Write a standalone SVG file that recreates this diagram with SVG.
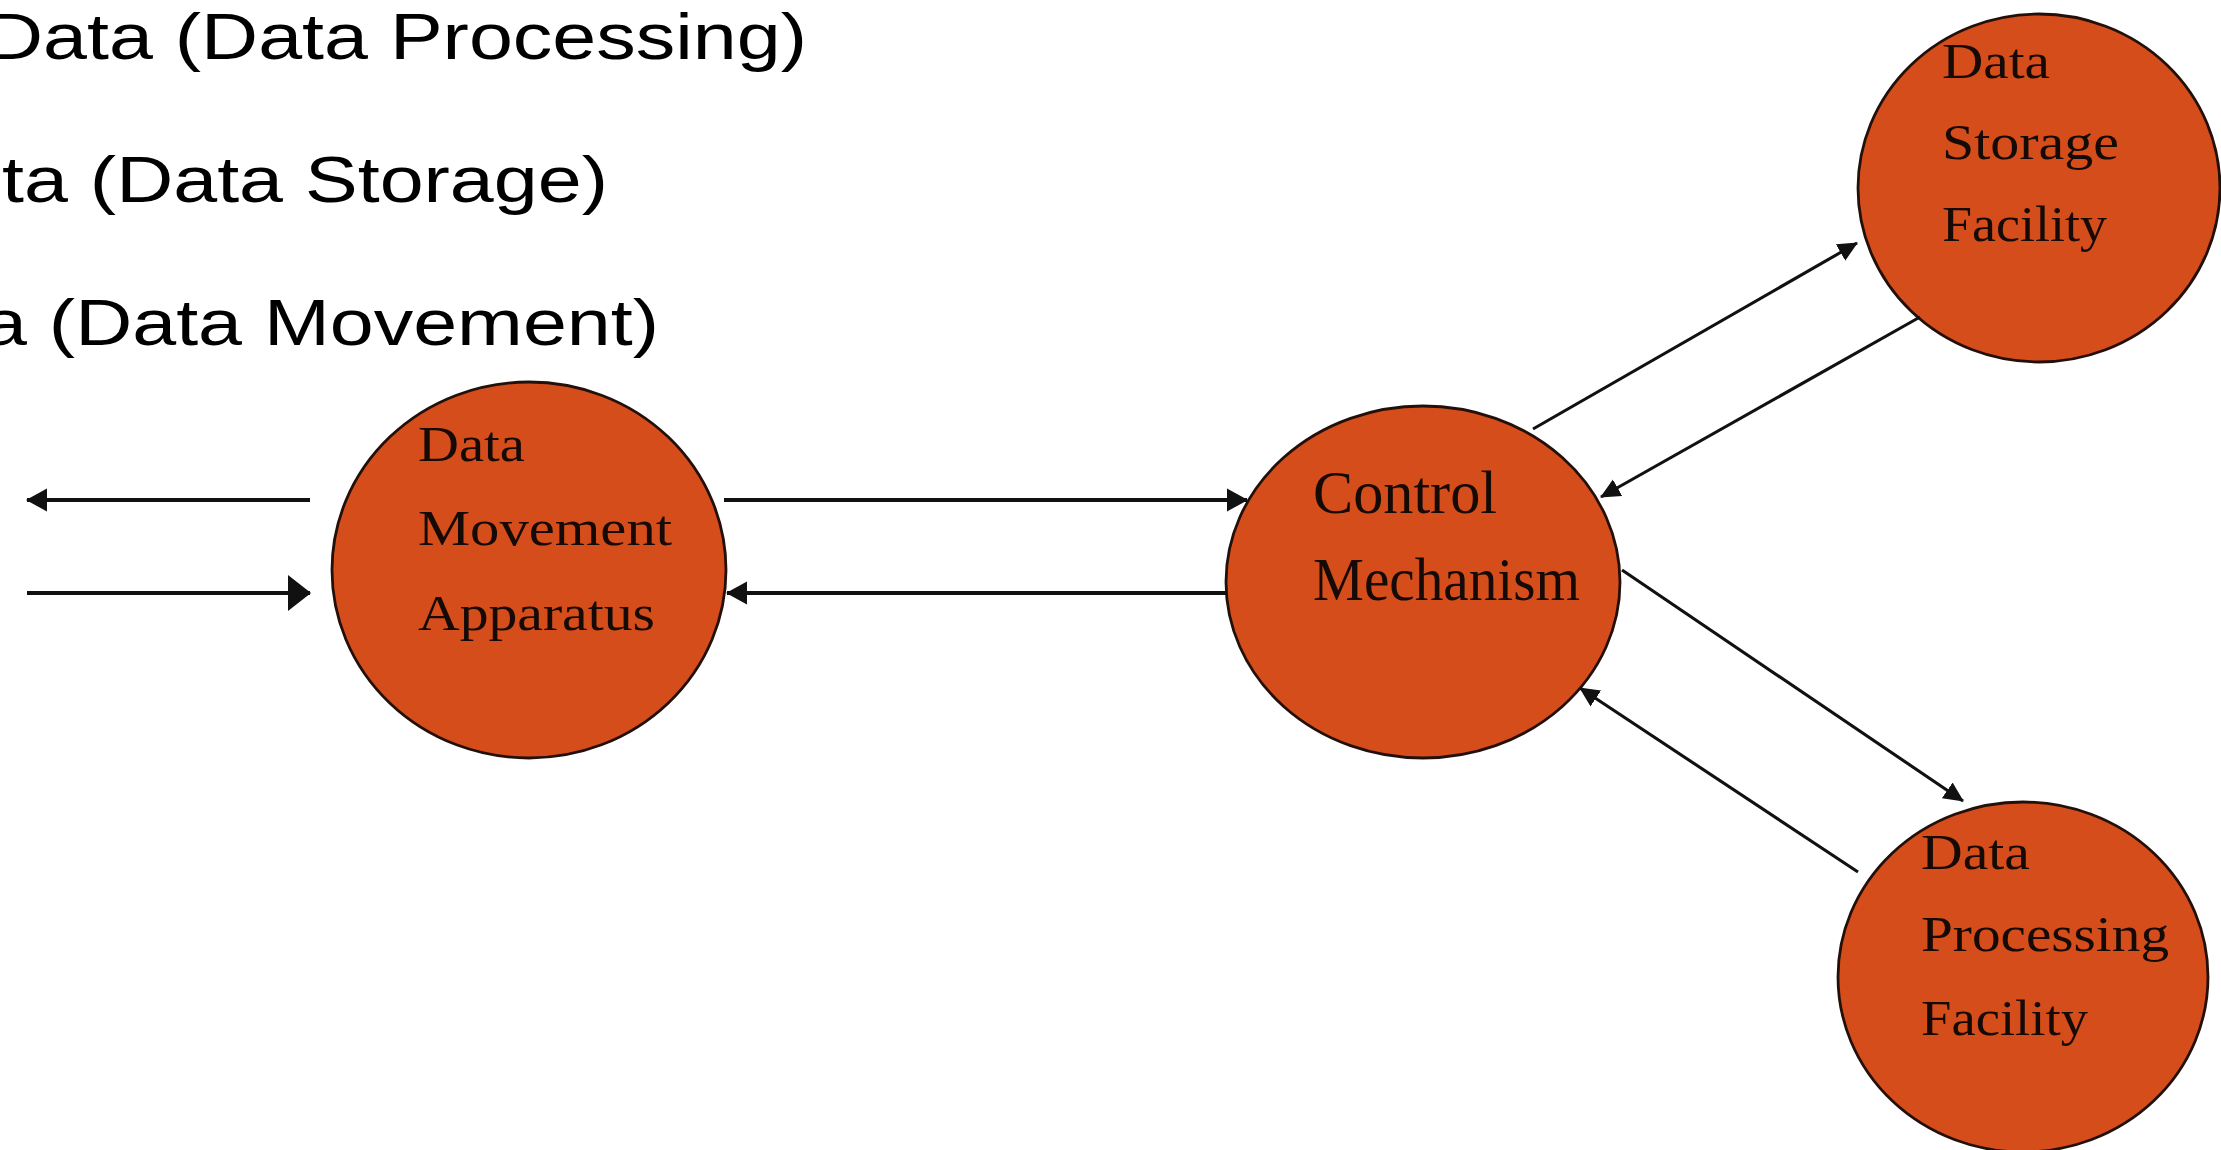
<svg xmlns="http://www.w3.org/2000/svg" width="2221" height="1150" viewBox="0 0 2221 1150">
<style>
.bg{fill:#ffffff}
.node{fill:#D54D1B;stroke:#24100a;stroke-width:2.8}
.lbl{font-family:"Liberation Serif","Times New Roman",serif;font-size:50px;fill:#160a06}
.lblL{font-family:"Liberation Serif","Times New Roman",serif;font-size:62px;fill:#160a06}
.head{font-family:"Liberation Sans",Arial,sans-serif;font-size:64px;fill:#000}
.conn{stroke:#111;fill:none}
.w4{stroke-width:4}
.w3{stroke-width:3.1}
</style>
<defs>
<marker id="ah" markerWidth="22" markerHeight="24" refX="20" refY="12" orient="auto" markerUnits="userSpaceOnUse"><path d="M0,0.5 L21,12 L0,23.5 z" fill="#111"/></marker>
<marker id="ahB" markerWidth="24" markerHeight="38" refX="22" refY="19" orient="auto" markerUnits="userSpaceOnUse"><path d="M0,1 L23,19 L0,37 z" fill="#111"/></marker>
<marker id="ahS" markerWidth="21" markerHeight="20" refX="19" refY="10" orient="auto" markerUnits="userSpaceOnUse"><path d="M0,0.5 L20,10 L0,19.5 z" fill="#111"/></marker>
</defs>
<rect class="bg" x="0" y="0" width="2221" height="1150"/>
<g id="heading">
<text class="head" x="-14" y="59" textLength="821" lengthAdjust="spacingAndGlyphs">Data (Data Processing)</text>
<text class="head" x="2" y="202" textLength="606" lengthAdjust="spacingAndGlyphs">ta (Data Storage)</text>
<text class="head" x="-17" y="345" textLength="676" lengthAdjust="spacingAndGlyphs">a (Data Movement)</text>
</g>
<g id="node-movement">
<ellipse class="node" cx="529" cy="570" rx="197" ry="188"/>
<text class="lbl" x="418" y="461" textLength="107" lengthAdjust="spacingAndGlyphs">Data</text>
<text class="lbl" x="418" y="545" textLength="254" lengthAdjust="spacingAndGlyphs">Movement</text>
<text class="lbl" x="418" y="630" textLength="237" lengthAdjust="spacingAndGlyphs">Apparatus</text>
</g>
<g id="node-control">
<ellipse class="node" cx="1423" cy="582" rx="197" ry="176"/>
<text class="lblL" x="1313" y="513" textLength="184" lengthAdjust="spacingAndGlyphs">Control</text>
<text class="lblL" x="1313" y="600" textLength="267" lengthAdjust="spacingAndGlyphs">Mechanism</text>
</g>
<g id="node-storage">
<ellipse class="node" cx="2039" cy="188" rx="181" ry="174"/>
<text class="lbl" x="1942" y="78" textLength="108" lengthAdjust="spacingAndGlyphs">Data</text>
<text class="lbl" x="1942" y="159" textLength="177" lengthAdjust="spacingAndGlyphs">Storage</text>
<text class="lbl" x="1942" y="241" textLength="165" lengthAdjust="spacingAndGlyphs">Facility</text>
</g>
<g id="node-processing">
<ellipse class="node" cx="2023" cy="977" rx="185" ry="175"/>
<text class="lbl" x="1921" y="869" textLength="109" lengthAdjust="spacingAndGlyphs">Data</text>
<text class="lbl" x="1921" y="951" textLength="248" lengthAdjust="spacingAndGlyphs">Processing</text>
<text class="lbl" x="1921" y="1035" textLength="167" lengthAdjust="spacingAndGlyphs">Facility</text>
</g>
<g id="connectors">
<line class="conn w4" x1="310" y1="500" x2="27" y2="500" marker-end="url(#ah)"/>
<line class="conn w4" x1="27" y1="593" x2="310" y2="593" marker-end="url(#ahB)"/>
<line class="conn w4" x1="724" y1="500" x2="1247" y2="500" marker-end="url(#ah)"/>
<line class="conn w4" x1="1227" y1="593" x2="727" y2="593" marker-end="url(#ah)"/>
<line class="conn w3" x1="1533" y1="429" x2="1857" y2="243" marker-end="url(#ahS)"/>
<line class="conn w3" x1="1920" y1="317" x2="1601" y2="497" marker-end="url(#ahS)"/>
<line class="conn w3" x1="1622" y1="570" x2="1963" y2="801" marker-end="url(#ahS)"/>
<line class="conn w3" x1="1858" y1="872" x2="1580" y2="688" marker-end="url(#ahS)"/>
</g>
</svg>
